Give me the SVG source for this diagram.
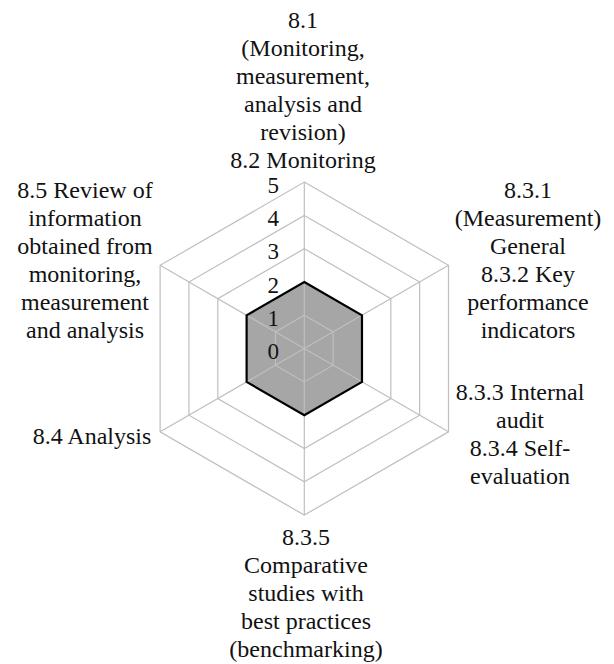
<svg xmlns="http://www.w3.org/2000/svg" width="614" height="664" viewBox="0 0 614 664" font-family="Liberation Serif, DejaVu Serif, serif">
<style>
text{font-size:24px;fill:#111;text-anchor:middle}
.tick{font-size:23px;text-anchor:end}
.grid{fill:none;stroke:#bfbfbf;stroke-width:1.2}
.data{fill:#a6a6a6;stroke:none}
.dataline{fill:none;stroke:#000;stroke-width:2.2;stroke-linejoin:miter}
</style>
<rect width="614" height="664" fill="#fff"/>
<g id="chart" transform="translate(304.3,348.6)">
<polygon class="data" points="0,-66.6 57.68,-33.3 57.68,33.3 0,66.6 -57.68,33.3 -57.68,-33.3"/>
<g id="grid" class="grid">
<polygon points="0,-166.5 144.19,-83.25 144.19,83.25 0,166.5 -144.19,83.25 -144.19,-83.25"/>
<polygon points="0,-133.2 115.35,-66.6 115.35,66.6 0,133.2 -115.35,66.6 -115.35,-66.6"/>
<polygon points="0,-99.9 86.52,-49.95 86.52,49.95 0,99.9 -86.52,49.95 -86.52,-49.95"/>
<polygon points="0,-66.6 57.68,-33.3 57.68,33.3 0,66.6 -57.68,33.3 -57.68,-33.3"/>
<polygon points="0,-33.3 28.84,-16.65 28.84,16.65 0,33.3 -28.84,16.65 -28.84,-16.65"/>
<line x1="0" y1="0" x2="0" y2="-166.5"/>
<line x1="0" y1="0" x2="144.19" y2="-83.25"/>
<line x1="0" y1="0" x2="144.19" y2="83.25"/>
<line x1="0" y1="0" x2="0" y2="166.5"/>
<line x1="0" y1="0" x2="-144.19" y2="83.25"/>
<line x1="0" y1="0" x2="-144.19" y2="-83.25"/>
</g>
<polygon class="dataline" points="0,-66.6 57.68,-33.3 57.68,33.3 0,66.6 -57.68,33.3 -57.68,-33.3"/>
</g>
<g id="ticks">
<text class="tick" x="279" y="193">5</text>
<text class="tick" x="279" y="226">4</text>
<text class="tick" x="279" y="259">3</text>
<text class="tick" x="279" y="293">2</text>
<text class="tick" x="279" y="326">1</text>
<text class="tick" x="279" y="359">0</text>
</g>
<g id="label-top">
<text x="303" y="28">8.1</text>
<text x="303" y="56">(Monitoring,</text>
<text x="303" y="84">measurement,</text>
<text x="303" y="112">analysis and</text>
<text x="303" y="140">revision)</text>
<text x="303" y="168">8.2 Monitoring</text>
</g>
<g id="label-upper-right">
<text x="528" y="198">8.3.1</text>
<text x="528" y="226">(Measurement)</text>
<text x="528" y="254">General</text>
<text x="528" y="282">8.3.2 Key</text>
<text x="528" y="310">performance</text>
<text x="528" y="338">indicators</text>
</g>
<g id="label-lower-right">
<text x="520" y="400">8.3.3 Internal</text>
<text x="520" y="428">audit</text>
<text x="520" y="456">8.3.4 Self-</text>
<text x="520" y="484">evaluation</text>
</g>
<g id="label-bottom">
<text x="306" y="545">8.3.5</text>
<text x="306" y="573">Comparative</text>
<text x="306" y="601">studies with</text>
<text x="306" y="629">best practices</text>
<text x="306" y="657">(benchmarking)</text>
</g>
<g id="label-lower-left">
<text x="92" y="444">8.4 Analysis</text>
</g>
<g id="label-upper-left">
<text x="85" y="198">8.5 Review of</text>
<text x="85" y="226">information</text>
<text x="85" y="254">obtained from</text>
<text x="85" y="282">monitoring,</text>
<text x="85" y="310">measurement</text>
<text x="85" y="338">and analysis</text>
</g>
</svg>
